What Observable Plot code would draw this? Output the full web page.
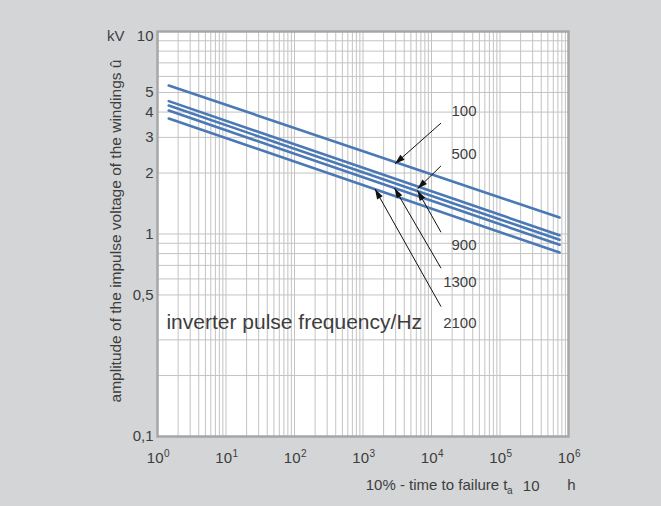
<!DOCTYPE html>
<html>
<head>
<meta charset="utf-8">
<script src="https://cdn.jsdelivr.net/npm/d3@7"></script>
<script src="https://cdn.jsdelivr.net/npm/@observablehq/plot@0.6"></script>
<style>
  html, body { margin: 0; padding: 0; background: #d4d5d7; }
  #chart svg { display: block; }
</style>
</head>
<body>
<div id="chart"></div>
<script>
// ---- data ----
const frequencies = [100, 500, 900, 1300, 2100];          // Hz
const timeStart = 1.46;                                     // h
const timeEnd = 7.4e5;                                      // h
const voltageStart = [5.41, 4.53, 4.31, 4.07, 3.72];        // kV at timeStart
const voltageEnd = [1.206, 0.986, 0.936, 0.885, 0.810];     // kV at timeEnd

// arrow annotations (tail -> head) and their labels
const arrowLabels = ["100", "500", "900", "1300", "2100"];
const arrowTailX = [13770, 13770, 13770, 13770, 13770];
const arrowTailY = [3.53, 2.17, 1.02, 0.678, 0.438];
const arrowHeadX = [2931, 6250, 6250, 2884, 1497];
const arrowHeadY = [2.22, 1.672, 1.638, 1.685, 1.666];
const labelX = [45400, 45400, 45400, 45400, 45400];
const labelY = [4.03, 2.47, 0.877, 0.576, 0.361];

// axis ticks & grid
const xTicks = [1, 10, 100, 1000, 10000, 100000, 1000000];
const xExponents = ["0", "1", "2", "3", "4", "5", "6"];
const decades = [1, 10, 100, 1000, 10000, 100000];
const minorSteps = [1, 2, 3, 4, 5, 6, 7, 8, 9];
const yTicks = [5, 4, 3, 2, 1, 0.5, 0.1];
const yTickLabels = ["5", "4", "3", "2", "1", "0,5", "0,1"];
const yGridLower = [0.2, 0.3, 0.5, 0.6, 0.7, 0.8, 0.9];
const yGridUpper = [1, 2, 3, 4, 5, 6, 7, 8, 9, 10];

// ---- derived tables ----
const xGrid = decades.flatMap(d => minorSteps.map(s => s * d));
const yGrid = yGridLower.concat(yGridUpper);
const lines = frequencies.flatMap((f, i) => [
  {f, t: timeStart, u: voltageStart[i]},
  {f, t: timeEnd, u: voltageEnd[i]}
]);

const W = 661, H = 506, mL = 157, mR = 93, mT = 31, mB = 70;
const pxX = (W - mL - mR) / 6, pxY = (H - mT - mB) / 2;
const arrows = arrowLabels.map((lab, i) => {
  const dx = (Math.log10(arrowHeadX[i]) - Math.log10(arrowTailX[i])) * pxX;
  const dy = -(Math.log10(arrowHeadY[i]) - Math.log10(arrowTailY[i])) * pxY;
  return {
    label: lab, x1: arrowTailX[i], y1: arrowTailY[i], x2: arrowHeadX[i], y2: arrowHeadY[i],
    angle: Math.atan2(dx, -dy) * 180 / Math.PI,
    lx: labelX[i], ly: labelY[i]
  };
});

const arrowHead = {
  draw(context) {
    context.moveTo(0, 0);
    context.lineTo(-3.2, 10);
    context.lineTo(3.2, 10);
    context.closePath();
  }
};

const textColor = "#3d3d3d";
const blue = "#4a79b5";

const chart = Plot.plot({
  width: W, height: H,
  marginLeft: mL, marginRight: mR, marginTop: mT, marginBottom: mB,
  style: {background: "#d4d5d7", fontFamily: "'Liberation Sans', Arial, sans-serif", fontSize: "15px", color: textColor},
  x: {type: "log", domain: [1, 1e6], axis: null},
  y: {type: "log", domain: [0.1, 10], axis: null},
  marks: [
    Plot.frame({fill: "white", stroke: "none"}),
    Plot.ruleX(xGrid, {x: d => d, stroke: "#c3c3c3", strokeWidth: 1}),
    Plot.ruleY(yGrid, {y: d => d, stroke: "#c3c3c3", strokeWidth: 1}),
    Plot.frame({stroke: "#a6a6a6", strokeWidth: 2.5}),
    Plot.line(lines, {x: "t", y: "u", z: "f", stroke: blue, strokeWidth: 2.6}),
    Plot.link(arrows, {x1: "x1", y1: "y1", x2: "x2", y2: "y2", stroke: "#111", strokeWidth: 1}),
    Plot.dot(arrows, {x: "x2", y: "y2", rotate: "angle", symbol: arrowHead, fill: "#111", stroke: "none"}),
    Plot.text(arrows, {x: "lx", y: "ly", text: "label", textAnchor: "end", fill: textColor, fontSize: 15}),
    Plot.text(["inverter pulse frequency/Hz"], {x: 1.35, y: 0.366, text: d => d, textAnchor: "start", fill: textColor, fontSize: 21}),
    // y tick labels
    Plot.text(yTicks, {y: d => d, text: (d, i) => yTickLabels[i], frameAnchor: "left", dx: -4, textAnchor: "end", fill: textColor, fontSize: 15}),
    Plot.text(["10"], {y: 10, text: d => d, frameAnchor: "left", dx: -4, dy: 5, textAnchor: "end", fill: textColor, fontSize: 15}),
    Plot.text(["kV"], {y: 10, text: d => d, frameAnchor: "left", dx: -33, dy: 5, textAnchor: "end", fill: textColor, fontSize: 15}),
    // x tick labels
    Plot.text(xTicks, {x: d => d, text: () => "10", frameAnchor: "bottom", dy: 26, dx: 6, textAnchor: "end", fill: textColor, fontSize: 15}),
    Plot.text(xTicks, {x: d => d, text: (d, i) => xExponents[i], frameAnchor: "bottom", dy: 20, dx: 6.5, textAnchor: "start", fill: textColor, fontSize: 10}),
    // axis titles
    Plot.text(["amplitude of the impulse voltage of the windings û"], {frameAnchor: "left", text: d => d, rotate: -90, textAnchor: "middle", dx: -41, dy: -3, fill: textColor, fontSize: 15.5}),
    Plot.text(["10% - time to failure t"], {frameAnchor: "bottom-left", text: d => d, dx: 350, dy: 53, textAnchor: "end", fill: textColor, fontSize: 15}),
    Plot.text(["a"], {frameAnchor: "bottom-left", text: d => d, dx: 349.5, dy: 57, textAnchor: "start", fill: textColor, fontSize: 10}),
    Plot.text(["10"], {frameAnchor: "bottom-left", text: d => d, dx: 382, dy: 54, textAnchor: "end", fill: textColor, fontSize: 15}),
    Plot.text(["h"], {frameAnchor: "bottom-left", text: d => d, dx: 418, dy: 53, textAnchor: "end", fill: textColor, fontSize: 15})
  ]
});
document.getElementById("chart").append(chart);
</script>
</body>
</html>
